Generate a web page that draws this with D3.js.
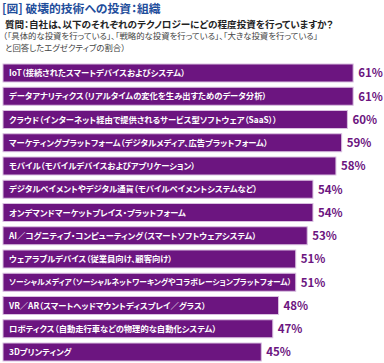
<!DOCTYPE html>
<html>
<head>
<meta charset="utf-8">
<script src="https://cdn.jsdelivr.net/npm/d3@7"></script>
<style>
  body { margin: 0; background: #fff; }
  svg text { font-family: "Noto Sans CJK JP", sans-serif; font-feature-settings: "palt"; }
</style>
</head>
<body>
<div id="chart"></div>
<script>
// 技術カテゴリと回答割合
var categories = [
  'IoT（接続されたスマートデバイスおよびシステム）',
  'データアナリティクス（リアルタイムの変化を生み出すためのデータ分析）',
  'クラウド（インターネット経由で提供されるサービス型ソフトウェア（SaaS））',
  'マーケティングプラットフォーム（デジタルメディア、広告プラットフォーム）',
  'モバイル（モバイルデバイスおよびアプリケーション）',
  'デジタルペイメントやデジタル通貨（モバイルペイメントシステムなど）',
  'オンデマンドマーケットプレイス・プラットフォーム',
  'AI／コグニティブ・コンピューティング（スマートソフトウェアシステム）',
  'ウェアラブルデバイス（従業員向け、顧客向け）',
  'ソーシャルメディア（ソーシャルネットワーキングやコラボレーションプラットフォーム）',
  'VR／AR（スマートヘッドマウントディスプレイ／グラス）',
  'ロボティクス（自動走行車などの物理的な自動化システム）',
  '3Dプリンティング'
];
var values = [61, 61, 60, 59, 58, 54, 54, 53, 51, 51, 48, 47, 45];

var W = 384, H = 363;
var svg = d3.select('#chart').append('svg')
  .attr('width', W).attr('height', H);

// 見出し
svg.append('text').attr('x', 2).attr('y', 13)
  .attr('fill', '#1f4e9c').attr('font-size', 11.8).attr('font-weight', 'bold')
  .text('[図] 破壊的技術への投資：組織');
svg.append('text').attr('x', 5).attr('y', 27.5)
  .attr('fill', '#222').attr('font-size', 9.6).attr('font-weight', 'bold')
  .text('質問：自社は、以下のそれぞれのテクノロジーにどの程度投資を行っていますか？');
svg.append('text').attr('x', 3).attr('y', 39)
  .attr('fill', '#444').attr('font-size', 8.4)
  .text('（「具体的な投資を行っている」、「戦略的な投資を行っている」、「大きな投資を行っている」');
svg.append('text').attr('x', 5).attr('y', 51)
  .attr('fill', '#444').attr('font-size', 8.4)
  .text('と回答したエグゼクティブの割合）');

var x = d3.scaleLinear().domain([0, 100]).range([3, 577]);
var y = d3.scaleBand().domain(categories).range([64, 361]).paddingInner(0.226);

var rows = svg.selectAll('g.row').data(categories).enter()
  .append('g').attr('class', 'row');

rows.append('rect')
  .attr('x', x(0))
  .attr('y', function(d) { return y(d); })
  .attr('width', function(d, i) { return x(values[i]) - x(0); })
  .attr('height', y.bandwidth())
  .attr('fill', '#6c1580')
  .attr('stroke', '#d9c0e0')
  .attr('stroke-width', 1);

rows.append('text')
  .attr('x', x(0) + 6)
  .attr('y', function(d) { return y(d) + y.bandwidth() / 2 + 3.2; })
  .attr('fill', '#fff').attr('font-size', 8.3).attr('font-weight', 'bold')
  .text(function(d) { return d; })
  .each(function(d, i) {
    // バーからはみ出す場合は文字を小さくする
    var room = x(values[i]) - x(0) - 10;
    var len = this.getComputedTextLength();
    if (len > room) {
      d3.select(this).attr('font-size', (8.3 * room / len).toFixed(2));
    }
  });

rows.append('text')
  .attr('x', function(d, i) { return x(values[i]) + 5; })
  .attr('y', function(d) { return y(d) + y.bandwidth() / 2 + 4.3; })
  .attr('fill', '#6c1580').attr('font-size', 11.5).attr('font-weight', 'bold')
  .text(function(d, i) { return values[i] + '%'; });
</script>
</body>
</html>
